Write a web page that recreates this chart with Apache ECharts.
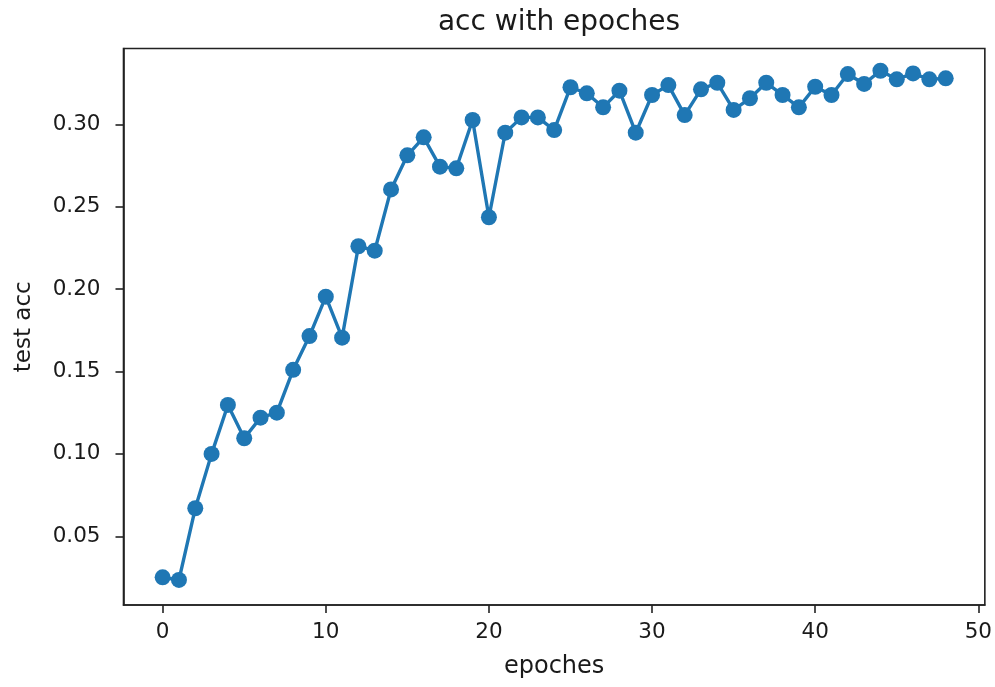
<!DOCTYPE html>
<html>
<head>
<meta charset="utf-8">
<script src="https://cdn.jsdelivr.net/npm/echarts@6/dist/echarts.min.js"></script>
<style>
  html, body { margin: 0; padding: 0; background: #fff; }
  #chart { width: 995px; height: 687px; }
</style>
</head>
<body>
<div id="chart"></div>
<script>
// Test accuracy recorded after each training epoch
const epochs = [0, 1, 2, 3, 4, 5, 6, 7, 8, 9, 10, 11, 12, 13, 14, 15, 16, 17, 18, 19,
  20, 21, 22, 23, 24, 25, 26, 27, 28, 29, 30, 31, 32, 33, 34, 35, 36, 37, 38, 39,
  40, 41, 42, 43, 44, 45, 46, 47, 48];
const testAcc = [0.0251, 0.0235, 0.0670, 0.1000, 0.1297, 0.1095, 0.1220, 0.1250, 0.1510, 0.1715,
  0.1954, 0.1705, 0.2260, 0.2233, 0.2605, 0.2812, 0.2921, 0.2743, 0.2733, 0.3026,
  0.2436, 0.2949, 0.3042, 0.3042, 0.2965, 0.3225, 0.3188, 0.3103, 0.3204, 0.2949,
  0.3178, 0.3238, 0.3056, 0.3212, 0.3252, 0.3087, 0.3158, 0.3252, 0.3178, 0.3103,
  0.3228, 0.3178, 0.3305, 0.3245, 0.3325, 0.3273, 0.3309, 0.3273, 0.3279];
const xTicks = [0, 10, 20, 30, 40, 50];
const yTicks = [0.05, 0.10, 0.15, 0.20, 0.25, 0.30];

const FONT = 'DejaVu Sans';
const INK = '#1a1a1a';
const BLUE = '#1f77b4';

const chart = echarts.init(document.getElementById('chart'));
chart.setOption({
  animation: false,
  backgroundColor: '#fff',
  title: {
    text: 'acc with epoches',
    left: 554,
    textAlign: 'center',
    top: 4,
    textStyle: { fontFamily: FONT, fontSize: 28, fontWeight: 'normal', color: INK }
  },
  grid: {
    left: 123.5, right: 10, top: 48.5, bottom: 82,
    show: true, borderColor: '#222', borderWidth: 1.6, backgroundColor: '#fff'
  },
  xAxis: {
    type: 'value',
    min: -2.4,
    max: 50.4,
    name: 'epoches',
    nameLocation: 'middle',
    nameGap: 50,
    nameTextStyle: { fontFamily: FONT, fontSize: 24, color: INK },
    splitLine: { show: false },
    axisLine: { show: true, onZero: false, lineStyle: { color: '#222', width: 1.6 } },
    axisTick: { show: true, inside: false, customValues: xTicks, length: 8, lineStyle: { color: '#222', width: 1.6 } },
    axisLabel: {
      customValues: xTicks,
      margin: 16,
      fontFamily: FONT, fontSize: 21.5, color: INK
    }
  },
  yAxis: {
    type: 'value',
    min: 0.0083,
    max: 0.346,
    name: 'test acc',
    nameLocation: 'middle',
    nameRotate: 90,
    nameGap: 88,
    nameTextStyle: { fontFamily: FONT, fontSize: 23, color: INK },
    splitLine: { show: false },
    axisLine: { show: true, onZero: false, lineStyle: { color: '#222', width: 1.6 } },
    axisTick: { show: true, inside: false, customValues: yTicks, length: 8, lineStyle: { color: '#222', width: 1.6 } },
    axisLabel: {
      customValues: yTicks,
      margin: 23,
      fontFamily: FONT, fontSize: 21.5, color: INK,
      formatter: v => v.toFixed(2)
    }
  },
  series: [{
    type: 'line',
    data: epochs.map((e, i) => [e, testAcc[i]]),
    symbol: 'circle',
    symbolSize: 16,
    showSymbol: true,
    lineStyle: { color: BLUE, width: 3.4 },
    itemStyle: { color: BLUE, borderWidth: 0 },
    emphasis: { disabled: true }
  }]
});
</script>
</body>
</html>
